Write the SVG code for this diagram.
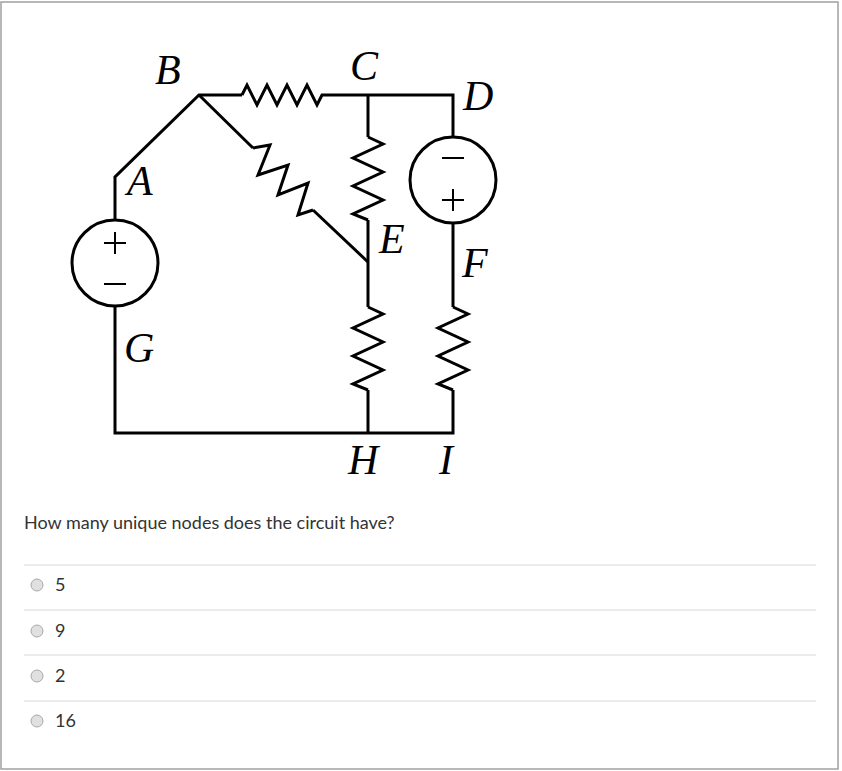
<svg xmlns="http://www.w3.org/2000/svg" width="842" height="771" viewBox="0 0 842 771">
<style>
.w{fill:none;stroke:#000;stroke-width:3;stroke-linejoin:miter}
.lb{font-family:"Liberation Serif",serif;font-style:italic;font-size:42px;fill:#000}
.pm{fill:none;stroke:#000;stroke-width:2}
.q{font-family:Lato,sans-serif;font-size:18px;fill:#333}
.sep{stroke:#d8d8d8;stroke-width:1}
.rd{fill:#e0e0e0;stroke:#a8a8a8;stroke-width:1}
</style>
<rect x="0" y="0" width="842" height="771" fill="#fff"/>
<rect x="1" y="2" width="837" height="767" fill="none" stroke="#a0a0a0" stroke-width="1.5"/>
<g id="connectors">
<path class="w" d="M115,220 V177 L199,95 H242 M327,95 H453 V137"/>
<path class="w" d="M199,95 L253,148 M313,210 L368,262"/>
<path class="w" d="M368,95 V137 M368,220 V307 M368,390 V433"/>
<path class="w" d="M453,223 V307 M453,390 V433 H115 V306"/>
</g>
<g id="R_BC"><path class="w" d="M242,95 L247,85 L257,105 L267,85 L277,105 L287,85 L297,105 L307,85 L317,105 L322,95 H327"/></g>
<g id="R_BE"><path class="w" d="M253,148 L270,145 L258,175 L288,165 L278,195 L308,183 L298,215 L313,210"/></g>
<g id="R_CE"><path class="w" d="M368,137 L383,144 L353,158 L383,172 L353,186 L383,200 L353,214 L368,220"/></g>
<g id="R_EH"><path class="w" d="M368,307 L383,314 L353,328 L383,342 L353,356 L383,370 L353,384 L368,390"/></g>
<g id="R_FI"><path class="w" d="M453,307 L468,314 L438,328 L468,342 L438,356 L468,370 L438,384 L453,390"/></g>
<g id="V_AG"><circle class="w" cx="115" cy="263" r="43"/><path class="pm" d="M104,243 H126 M115,232 V254 M104,284 H126"/></g>
<g id="V_DF"><circle class="w" cx="453" cy="180" r="43"/><path class="pm" d="M442,158 H464 M442,200 H464 M453,189 V211"/></g>
<g id="labels">
<text class="lb" x="155" y="84">B</text>
<text class="lb" x="350" y="80">C</text>
<text class="lb" x="463" y="110">D</text>
<text class="lb" x="127" y="195">A</text>
<text class="lb" x="379" y="253">E</text>
<text class="lb" x="462" y="277">F</text>
<text class="lb" x="124" y="362">G</text>
<text class="lb" x="348" y="474">H</text>
<text class="lb" x="439" y="474">I</text>
</g>
<g id="question">
<text class="q" x="24" y="529">How many unique nodes does the circuit have?</text>
<line class="sep" x1="24" y1="565" x2="816" y2="565"/>
<line class="sep" x1="24" y1="610" x2="816" y2="610"/>
<line class="sep" x1="24" y1="655" x2="816" y2="655"/>
<line class="sep" x1="24" y1="701" x2="816" y2="701"/>
<circle class="rd" cx="37" cy="585" r="6"/><text class="q" x="55" y="591" font-size="15">5</text>
<circle class="rd" cx="37" cy="631" r="6"/><text class="q" x="55" y="637" font-size="15">9</text>
<circle class="rd" cx="37" cy="676" r="6"/><text class="q" x="55" y="682" font-size="15">2</text>
<circle class="rd" cx="37" cy="721" r="6"/><text class="q" x="55" y="727" font-size="15">16</text>
</g>
</svg>
